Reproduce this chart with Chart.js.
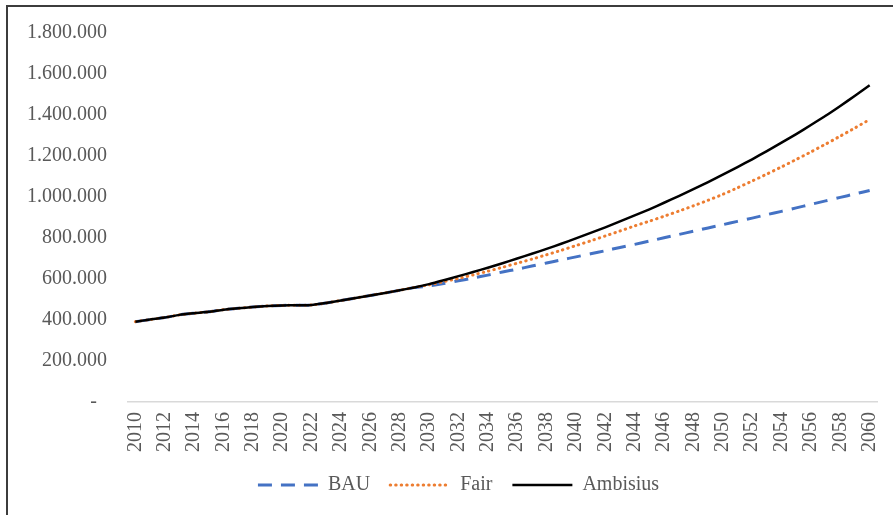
<!DOCTYPE html>
<html>
<head>
<meta charset="utf-8">
<script src="https://cdn.jsdelivr.net/npm/chart.js@4.4.1/dist/chart.umd.min.js"></script>
<style>
  html, body { margin: 0; padding: 0; background: #fff; }
  #wrap { position: relative; width: 893px; height: 515px; overflow: hidden; }
  #frame { position: absolute; left: 6px; top: 5px; width: 920px; height: 540px;
           border: 2px solid #3c3c3c; pointer-events: none; }
  canvas { position: absolute; left: 0; top: 0; }
</style>
</head>
<body>
<div id="wrap">
  <canvas id="chart" width="893" height="515"></canvas>
  <div id="frame"></div>
</div>
<script>
const years = [
  2010, 2011, 2012, 2013, 2014, 2015, 2016, 2017, 2018, 2019,
  2020, 2021, 2022, 2023, 2024, 2025, 2026, 2027, 2028, 2029,
  2030, 2031, 2032, 2033, 2034, 2035, 2036, 2037, 2038, 2039,
  2040, 2041, 2042, 2043, 2044, 2045, 2046, 2047, 2048, 2049,
  2050, 2051, 2052, 2053, 2054, 2055, 2056, 2057, 2058, 2059, 2060
];

const bau = [
  392000, 402000, 412000, 425000, 433000, 440000, 450000, 457000, 463000, 468000,
  471000, 472000, 473000, 483000, 495000, 507000, 520000, 532000, 545000, 558000,
  566000, 578000, 591000, 605000, 619000, 634000, 648000, 663000, 678000, 693000,
  708000, 723000, 738000, 754000, 769000, 785000, 801000, 817000, 833000, 849000,
  865000, 881000, 897000, 914000, 930000, 947000, 964000, 981000, 998000, 1015000, 1032000
];

const fair = [
  392000, 402000, 412000, 425000, 433000, 440000, 450000, 457000, 463000, 468000,
  471000, 472000, 473000, 483000, 495000, 507000, 520000, 532000, 545000, 559000,
  572000, 587000, 603000, 620000, 638000, 657000, 677000, 697000, 718000, 740000,
  763000, 786000, 810000, 834000, 859000, 882000, 906000, 931000, 957000, 984000,
  1013000, 1045000, 1078000, 1112000, 1147000, 1183000, 1220000, 1258000, 1297000, 1337000, 1378000
];

const ambisius = [
  392000, 402000, 412000, 425000, 433000, 440000, 450000, 457000, 463000, 468000,
  471000, 472000, 473000, 483000, 495000, 507000, 520000, 532000, 545000, 559000,
  575000, 594000, 614000, 634000, 655000, 677000, 700000, 723000, 747000, 772000,
  798000, 825000, 852000, 881000, 910000, 940000, 972000, 1004000, 1038000, 1073000,
  1109000, 1146000, 1184000, 1224000, 1265000, 1307000, 1351000, 1396000, 1444000, 1494000, 1545000
];

const seriesNames = ["BAU", "Fair", "Ambisius"];

function fmt(v) {
  if (v === 0) return "-  ";
  return String(v).replace(/\B(?=(\d{3})+(?!\d))/g, ".");
}

const font = { family: "'Liberation Serif', 'Times New Roman', serif", size: 20 };
const textColor = "#595959";

// nudge the legend a bit to the right, like the original
const legendShift = {
  id: "legendShift",
  afterLayout(chart) {
    if (chart.legend) chart.legend.left += 40;
  },
};

new Chart(document.getElementById("chart"), {
  type: "line",
  data: {
    labels: years,
    datasets: [
      {
        label: seriesNames[0],
        data: bau,
        borderColor: "#4472C4",
        borderWidth: 3,
        borderDash: [14, 9],
        order: 3,
      },
      {
        label: seriesNames[1],
        data: fair,
        borderColor: "#ED7D31",
        borderWidth: 3,
        borderDash: [0.5, 5],
        borderCapStyle: "round",
        order: 2,
      },
      {
        label: seriesNames[2],
        data: ambisius,
        borderColor: "#000000",
        borderWidth: 2.5,
        order: 1,
      },
    ],
  },
  plugins: [legendShift],
  options: {
    responsive: false,
    animation: false,
    elements: { point: { radius: 0 }, line: { tension: 0.2 } },
    layout: { padding: { top: 32, right: 16, left: 0, bottom: 10 } },
    plugins: {
      tooltip: { enabled: false },
      legend: {
        position: "bottom",
        labels: {
          font: font,
          color: textColor,
          usePointStyle: true,
          pointStyleWidth: 60,
          padding: 20,
          generateLabels: function (chart) {
            return chart.data.datasets.map((ds, i) => ({
              text: ds.label,
              datasetIndex: i,
              strokeStyle: ds.borderColor,
              fillStyle: ds.borderColor,
              lineWidth: ds.borderWidth,
              lineDash: ds.borderDash || [],
              lineCap: ds.borderCapStyle || "butt",
              pointStyle: "line",
              fontColor: textColor,
              hidden: false,
            }));
          },
        },
      },
    },
    scales: {
      x: {
        offset: true,
        grid: { display: false, drawTicks: false },
        border: { display: true, color: "#d9d9d9", width: 1.5 },
        ticks: {
          font: font,
          color: textColor,
          autoSkip: false,
          minRotation: 90,
          maxRotation: 90,
          padding: 10,
          callback: function (v, i) {
            return i % 2 === 0 ? String(years[i]) : "";
          },
        },
        afterFit: function (scale) {
          scale.height = 53;
          scale.paddingLeft = 0;
          scale.paddingRight = 0;
        },
      },
      y: {
        min: 0,
        max: 1800000,
        grid: { display: false, drawTicks: false },
        border: { display: false },
        ticks: {
          font: font,
          color: textColor,
          stepSize: 200000,
          padding: 21,
          callback: function (v) {
            return fmt(v);
          },
        },
        afterFit: function (scale) {
          scale.width = 128;
        },
      },
    },
  },
});
</script>
</body>
</html>
